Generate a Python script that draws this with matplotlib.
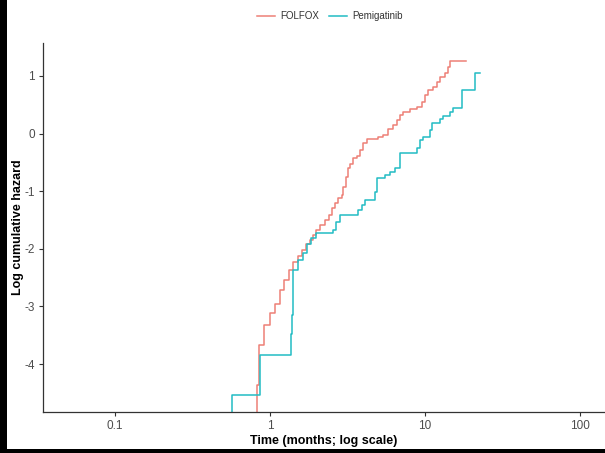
import matplotlib
matplotlib.use("Agg")
import matplotlib.pyplot as plt
from matplotlib.patches import Rectangle
from matplotlib.ticker import FixedLocator, NullLocator

plt.rcParams['font.family'] = ['Liberation Sans', 'DejaVu Sans']
plt.rcParams['axes.unicode_minus'] = False

# event times (months) and log cumulative hazard after each step
folfox_time = [0.824, 0.849, 0.915, 1.0, 1.077, 1.160, 1.231, 1.326, 1.407, 1.516,
               1.602, 1.707, 1.812, 1.903, 1.981, 2.102, 2.264, 2.413, 2.501, 2.627,
               2.758, 2.901, 2.971, 3.093, 3.201, 3.282, 3.447, 3.625, 3.807, 4.000,
               4.206, 4.996, 5.383, 5.798, 6.244, 6.568, 6.899, 7.244, 8.003, 8.841,
               9.521, 10.0, 10.50, 11.31, 11.90, 12.50, 13.46, 14.14, 14.50]
folfox_haz = [-4.37, -3.67, -3.32, -3.12, -2.95, -2.72, -2.54, -2.37, -2.23, -2.13,
              -2.02, -1.91, -1.85, -1.76, -1.68, -1.59, -1.50, -1.415, -1.30, -1.21,
              -1.125, -1.07, -0.92, -0.75, -0.60, -0.52, -0.43, -0.39, -0.29, -0.17,
              -0.10, -0.055, -0.026, 0.072, 0.148, 0.234, 0.32, 0.378, 0.42, 0.465,
              0.552, 0.668, 0.755, 0.813, 0.90, 0.986, 1.045, 1.16, 1.264]
folfox_end = 18.39

pemi_time = [0.566, 0.862, 1.359, 1.394, 1.414, 1.523, 1.641, 1.741, 1.830, 1.981,
             2.563, 2.666, 2.829, 3.715, 3.903, 4.102, 4.758, 4.878, 5.521, 5.946,
             6.405, 6.899, 8.837, 9.284, 9.755, 10.77, 11.04, 12.50, 13.13, 14.50,
             15.23, 17.25, 21.02]
pemi_haz = [-4.54, -3.85, -3.47, -3.15, -2.37, -2.20, -2.08, -1.92, -1.82, -1.73,
            -1.675, -1.53, -1.415, -1.328, -1.241, -1.155, -1.01, -0.778, -0.720, -0.663,
            -0.605, -0.344, -0.258, -0.113, -0.055, 0.061, 0.177, 0.246, 0.304, 0.379,
            0.437, 0.755, 1.045]
pemi_end = 22.64

groups = ['FOLFOX', 'Pemigatinib']
colors = ['#EE8076', '#22BCC4']

x_ticks = [0.1, 1, 10, 100]
x_labels = ['0.1', '1', '10', '100']
y_ticks = [-4, -3, -2, -1, 0, 1]


def step_xy(times, haz, end):
    # start from the bottom (log(0) = -inf), then step up at each event
    xs = [times[0]] + list(times) + [end]
    ys = [-20] + list(haz) + [haz[-1]]
    return xs, ys


fig = plt.figure(figsize=(6.05, 4.53), dpi=100)
fig.patch.set_facecolor('white')

# black frame strips on the left and bottom of the screenshot
fig.patches.append(Rectangle((0, 0), 7 / 605, 1, transform=fig.transFigure,
                             facecolor='black', edgecolor='none', zorder=10))
fig.patches.append(Rectangle((0, 0), 1, 4 / 453, transform=fig.transFigure,
                             facecolor='black', edgecolor='none', zorder=10))

ax = fig.add_axes([43 / 605, 41 / 453, 1 - 43 / 605, 369 / 453])

series = [(folfox_time, folfox_haz, folfox_end), (pemi_time, pemi_haz, pemi_end)]
for (t, h, e), name, col in zip(series, groups, colors):
    xs, ys = step_xy(t, h, e)
    ax.plot(xs, ys, drawstyle='steps-post', color=col, lw=1.1, label=name)

ax.set_xscale('log')
ax.set_xlim(10 ** -1.465, 10 ** 2.161)
ax.set_ylim(-4.83, 1.57)
ax.xaxis.set_major_locator(FixedLocator(x_ticks))
ax.xaxis.set_minor_locator(NullLocator())
ax.set_xticks(x_ticks)
ax.set_xticklabels(x_labels)
ax.set_yticks(y_ticks)

for side in ['top', 'right']:
    ax.spines[side].set_visible(False)
for side in ['left', 'bottom']:
    ax.spines[side].set_color('#333333')
    ax.spines[side].set_linewidth(0.9)

ax.tick_params(axis='both', colors='#333333', length=3, width=0.8,
               labelsize=8.5, labelcolor='#4D4D4D', pad=3)

ax.set_xlabel('Time (months; log scale)', fontsize=9, fontweight='bold', labelpad=2)
ax.set_ylabel('Log cumulative hazard', fontsize=9, fontweight='bold')
ax.yaxis.set_label_coords(-19 / 562, 0.5)

fig.legend(loc='center', bbox_to_anchor=(330 / 605, 1 - 16 / 453), ncol=2,
           frameon=False, fontsize=7, handlelength=1.8, columnspacing=1.0,
           handletextpad=0.6, labelcolor='#333333')

fig.savefig('out.png', dpi=100)
